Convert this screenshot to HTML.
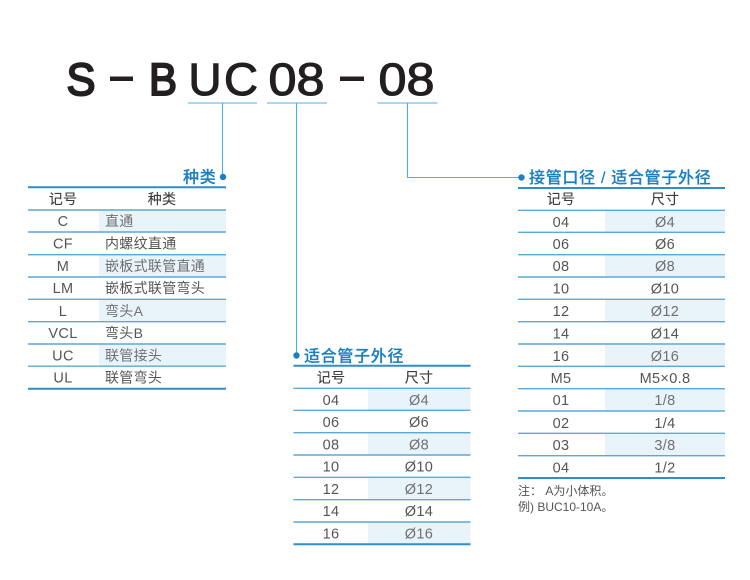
<!DOCTYPE html>
<html lang="zh"><head><meta charset="utf-8"><style>
html,body{margin:0;padding:0;background:#fff}
svg{display:block}
text{font-family:"Liberation Sans","Noto Sans CJK SC",sans-serif}
.big{font-size:45px;fill:#231f20;stroke:#231f20;stroke-width:1.1}
.bold{stroke-width:2}
.h{font-size:16px;fill:#1a80c2;font-weight:500;letter-spacing:.7px;stroke:#1a80c2;stroke-width:.2}
.th{font-size:14px;fill:#3c3c3c;text-anchor:middle;letter-spacing:.3px;stroke:#3c3c3c;stroke-width:.12}
.c{font-size:14.500px;fill:#555;text-anchor:middle;letter-spacing:.35px}
.z{font-size:14px;fill:#555;letter-spacing:.3px}
.g{fill:#707070}
.n{font-size:12px;fill:#555}
.s{fill:#e8f3fa}
.l{stroke:#5aa9d8;stroke-width:1.4}
.t{stroke:#2f8ec9;stroke-width:2}
.w{stroke:#4fb0e0;stroke-width:1.1;fill:none}
.d{fill:#1a80c2}
</style></head><body>
<svg width="750" height="580" viewBox="0 0 750 580" xmlns="http://www.w3.org/2000/svg">
<text class="big bold" x="66.500" y="95" textLength="29" lengthAdjust="spacingAndGlyphs">S</text>
<rect x="110" y="76.500" width="23" height="4.500" fill="#231f20"/>
<text class="big bold" x="149" y="95" textLength="28" lengthAdjust="spacingAndGlyphs">B</text>
<text class="big" x="188.500" y="95" textLength="33" lengthAdjust="spacingAndGlyphs">U</text>
<text class="big" x="224" y="95" textLength="34" lengthAdjust="spacingAndGlyphs">C</text>
<text class="big" x="268.500" y="95" textLength="56" lengthAdjust="spacingAndGlyphs">08</text>
<rect x="340" y="76.500" width="24" height="4.500" fill="#231f20"/>
<text class="big" x="378.500" y="95" textLength="56" lengthAdjust="spacingAndGlyphs">08</text>

<path class="w" d="M188 103H257M222.500 103V177M267 103H327M296.500 103V355M377.500 103H437.500M407.500 103V177.500H520"/>
<circle class="d" cx="223" cy="177" r="3.200"/>
<circle class="d" cx="296.500" cy="355.500" r="3.200"/>
<circle class="d" cx="521.500" cy="177.500" r="3.200"/>

<!-- Table 1 -->
<text class="h" x="183" y="182.500">种类</text>
<rect class="s" x="99" y="210" width="127" height="22"/>
<rect class="s" x="99" y="255" width="127" height="22"/>
<rect class="s" x="99" y="300" width="127" height="22"/>
<rect class="s" x="99" y="344" width="127" height="22"/>
<path class="t" d="M28 187.300H226M28 388.700H226"/>
<path class="l" d="M28 210H226M28 232H226M28 254.700H226M28 277H226M28 299.300H226M28 321.700H226M28 344H226M28 366.200H226"/>
<text class="th" x="63" y="204">记号</text><text class="th" x="162" y="204">种类</text>
<text class="c" x="63" y="226">C</text><text class="z g" x="105" y="226">直通</text>
<text class="c" x="63" y="248.500">CF</text><text class="z" x="105" y="248.500">内螺纹直通</text>
<text class="c" x="63" y="271">M</text><text class="z g" x="105" y="271">嵌板式联管直通</text>
<text class="c" x="63" y="293">LM</text><text class="z" x="105" y="293">嵌板式联管弯头</text>
<text class="c" x="63" y="316">L</text><text class="z g" x="105" y="316">弯头A</text>
<text class="c" x="63" y="338">VCL</text><text class="z" x="105" y="338">弯头B</text>
<text class="c" x="63" y="360.500">UC</text><text class="z g" x="105" y="360.500">联管接头</text>
<text class="c" x="63" y="382.500">UL</text><text class="z" x="105" y="382.500">联管弯头</text>

<!-- Table 2 -->
<text class="h" x="304" y="361.500">适合管子外径</text>
<rect class="s" x="368" y="389" width="102.500" height="21"/>
<rect class="s" x="368" y="433" width="102.500" height="22"/>
<rect class="s" x="368" y="478" width="102.500" height="22"/>
<rect class="s" x="368" y="522" width="102.500" height="22"/>
<path class="t" d="M293.500 365.700H470.500M293.500 544.300H470.500"/>
<path class="l" d="M293.500 388.300H470.500M293.500 410.300H470.500M293.500 432.700H470.500M293.500 455H470.500M293.500 477.300H470.500M293.500 499.700H470.500M293.500 522H470.500"/>
<text class="th" x="331" y="382.500">记号</text><text class="th" x="419" y="382.500">尺寸</text>
<text class="c" x="331" y="405">04</text><text class="c g" x="419" y="405">Ø4</text>
<text class="c" x="331" y="427">06</text><text class="c" x="419" y="427">Ø6</text>
<text class="c" x="331" y="449.500">08</text><text class="c g" x="419" y="449.500">Ø8</text>
<text class="c" x="331" y="471.500">10</text><text class="c" x="419" y="471.500">Ø10</text>
<text class="c" x="331" y="494">12</text><text class="c g" x="419" y="494">Ø12</text>
<text class="c" x="331" y="516">14</text><text class="c" x="419" y="516">Ø14</text>
<text class="c" x="331" y="538.500">16</text><text class="c g" x="419" y="538.500">Ø16</text>

<!-- Table 3 -->
<text class="h" x="529" y="183">接管口径 / 适合管子外径</text>
<rect class="s" x="605" y="211" width="120" height="21"/>
<rect class="s" x="605" y="255" width="120" height="22"/>
<rect class="s" x="605" y="300" width="120" height="22"/>
<rect class="s" x="605" y="344" width="120" height="22"/>
<rect class="s" x="605" y="389" width="120" height="22"/>
<rect class="s" x="605" y="434" width="120" height="22"/>
<path class="t" d="M518 188H725M518 478H725"/>
<path class="l" d="M518 210.300H725M518 232.300H725M518 254.700H725M518 277H725M518 299.300H725M518 321.700H725M518 344H725M518 366.300H725M518 388.700H725M518 411H725M518 433.300H725M518 455.700H725"/>
<text class="th" x="561" y="204">记号</text><text class="th" x="665" y="204">尺寸</text>
<text class="c" x="561" y="227">04</text><text class="c g" x="665" y="227">Ø4</text>
<text class="c" x="561" y="249">06</text><text class="c" x="665" y="249">Ø6</text>
<text class="c" x="561" y="271">08</text><text class="c g" x="665" y="271">Ø8</text>
<text class="c" x="561" y="293.500">10</text><text class="c" x="665" y="293.500">Ø10</text>
<text class="c" x="561" y="316">12</text><text class="c g" x="665" y="316">Ø12</text>
<text class="c" x="561" y="338.500">14</text><text class="c" x="665" y="338.500">Ø14</text>
<text class="c" x="561" y="361">16</text><text class="c g" x="665" y="361">Ø16</text>
<text class="c" x="561" y="383">M5</text><text class="c" x="665" y="383">M5×0.8</text>
<text class="c" x="561" y="405">01</text><text class="c g" x="665" y="405">1/8</text>
<text class="c" x="561" y="428">02</text><text class="c" x="665" y="428">1/4</text>
<text class="c" x="561" y="450">03</text><text class="c g" x="665" y="450">3/8</text>
<text class="c" x="561" y="472.500">04</text><text class="c" x="665" y="472.500">1/2</text>
<text class="n" x="518" y="495">注： A为小体积。</text>
<text class="n" x="518" y="511">例) BUC10-10A。</text>
</svg>
</body></html>
